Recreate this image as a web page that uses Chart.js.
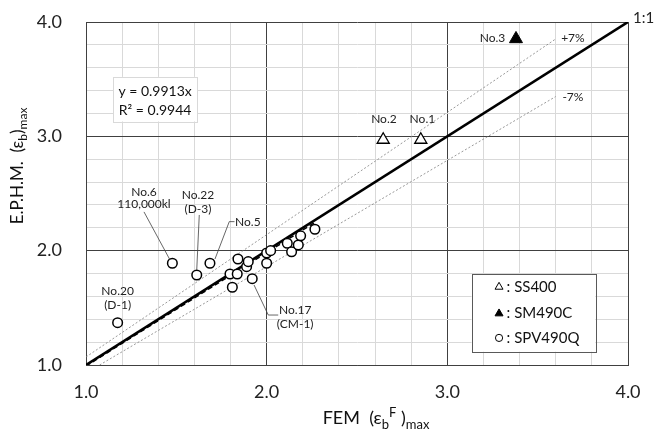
<!DOCTYPE html>
<html>
<head>
<meta charset="utf-8">
<script src="https://cdn.jsdelivr.net/npm/chart.js@4.4.0/dist/chart.umd.min.js"></script>
<style>
  html, body { margin: 0; padding: 0; background: #fff; }
  #wrap { width: 654px; height: 430px; }
</style>
</head>
<body>
<div id="wrap"><canvas id="chart" width="654" height="430"></canvas></div>
<script>
// SS400 - open triangles (No.2, No.1)
const ss400X = [2.645, 2.853];
const ss400Y = [2.97, 2.97];
// SM490C - filled triangle (No.3)
const sm490cX = [3.38];
const sm490cY = [3.852];
// SPV490Q - open circles
const spvX = [1.175, 1.478, 1.613, 1.686, 1.81, 1.797, 1.837, 1.841, 1.889, 1.898, 1.92, 2.0, 2.0, 2.022, 2.114, 2.138, 2.175, 2.188, 2.267];
const spvY = [1.37, 1.89, 1.787, 1.89, 1.68, 1.796, 1.796, 1.927, 1.86, 1.904, 1.755, 1.89, 1.98, 2.0, 2.065, 1.99, 2.05, 2.13, 2.187];

// reference lines
const slope = 0.9913;
const rSquared = 0.9944;
const band = 0.07;
const lineX = [1.0, 4.0];      // 1:1
const bandX = [1.0, 3.6];      // +/-7% lines
const fitX = [1.0, 2.267];     // regression over data range

// axis
const axisMin = 1.0;
const axisMax = 4.0;
const tickStep = 0.2;

const FONT = 'Lato, "Open Sans", "DejaVu Sans", sans-serif';

const toPts = (xs, ys) => xs.map((x, i) => ({ x: x, y: ys[i] }));

// annotations in data coordinates
const notes = [
  { t: 'No.6', x: 1.321, y: 2.516 },
  { t: '110,000kl', x: 1.321, y: 2.409 },
  { t: 'No.22', x: 1.62, y: 2.487 },
  { t: '(D-3)', x: 1.62, y: 2.365 },
  { t: 'No.5', x: 1.825, y: 2.254, align: 'left' },
  { t: 'No.20', x: 1.175, y: 1.647 },
  { t: '(D-1)', x: 1.175, y: 1.525 },
  { t: 'No.17', x: 2.158, y: 1.481 },
  { t: '(CM-1)', x: 2.158, y: 1.359 },
  { t: 'No.3', x: 3.25, y: 3.861 },
  { t: 'No.2', x: 2.649, y: 3.152 },
  { t: 'No.1', x: 2.862, y: 3.152 },
  { t: '+7%', x: 3.695, y: 3.857 },
  { t: '-7%', x: 3.695, y: 3.347 },
  { t: '1:1', x: 4.086, y: 4.03, size: 15 }
];

const leaders = [
  [[1.321, 2.339], [1.465, 1.919]],
  [[1.627, 2.312], [1.613, 1.831]],
  [[1.822, 2.254], [1.793, 2.254], [1.714, 1.927]],
  [[1.93, 1.70], [2.009, 1.437], [2.064, 1.437]]
];

// draw text runs with sub/superscripts, centred on cx
function drawRich(ctx, parts, cx, cy, size) {
  const small = Math.round(size * 0.7);
  let total = 0;
  parts.forEach(p => {
    ctx.font = (p.s ? small : size) + 'px ' + FONT;
    p.w = ctx.measureText(p.t).width;
    total += p.w;
  });
  let x = cx - total / 2;
  ctx.textAlign = 'left';
  ctx.textBaseline = 'alphabetic';
  parts.forEach(p => {
    ctx.font = (p.s ? small : size) + 'px ' + FONT;
    let dy = 0;
    if (p.s === 'sub') dy = size * 0.25;
    if (p.s === 'sup') dy = -size * 0.38;
    ctx.fillText(p.t, x, cy + dy);
    x += p.w;
  });
}

const overlay = {
  id: 'overlay',
  afterDraw(chart) {
    const ctx = chart.ctx;
    const sx = chart.scales.x, sy = chart.scales.y;
    const px = (x) => sx.getPixelForValue(x);
    const py = (y) => sy.getPixelForValue(y);
    ctx.save();

    // leader lines
    ctx.strokeStyle = '#404040';
    ctx.lineWidth = 0.8;
    leaders.forEach(path => {
      ctx.beginPath();
      path.forEach((p, i) => i ? ctx.lineTo(px(p[0]), py(p[1])) : ctx.moveTo(px(p[0]), py(p[1])));
      ctx.stroke();
    });

    // point labels
    ctx.fillStyle = '#222';
    ctx.textBaseline = 'middle';
    notes.forEach(n => {
      ctx.font = (n.size || 12) + 'px ' + FONT;
      ctx.textAlign = n.align || 'center';
      ctx.fillText(n.t, px(n.x), py(n.y));
    });

    // regression box
    const bx0 = px(1.15), by0 = py(3.52), bx1 = px(1.615), by1 = py(3.13);
    ctx.fillStyle = '#fff';
    ctx.fillRect(bx0, by0, bx1 - bx0, by1 - by0);
    ctx.strokeStyle = '#d9d9d9';
    ctx.lineWidth = 1;
    ctx.strokeRect(Math.round(bx0) + 0.5, Math.round(by0) + 0.5, Math.round(bx1 - bx0), Math.round(by1 - by0));
    ctx.fillStyle = '#111';
    ctx.font = '14px ' + FONT;
    ctx.textAlign = 'center';
    ctx.textBaseline = 'middle';
    const cx = (bx0 + bx1) / 2;
    ctx.fillText('y = ' + slope.toFixed(4) + 'x', cx, py(3.39));
    ctx.fillText('R\u00b2 = ' + rSquared.toFixed(4), cx, py(3.23));

    // legend box
    const lx0 = px(3.134), ly0 = py(1.796), lx1 = px(3.819), ly1 = py(1.116);
    ctx.fillStyle = '#fff';
    ctx.fillRect(lx0, ly0, lx1 - lx0, ly1 - ly0);
    ctx.strokeStyle = '#595959';
    ctx.strokeRect(Math.round(lx0) + 0.5, Math.round(ly0) + 0.5, Math.round(lx1 - lx0), Math.round(ly1 - ly0));
    const items = [
      { label: ': SS400', style: 'triangle', fill: '#fff', y: 1.683 },
      { label: ': SM490C', style: 'triangle', fill: '#000', y: 1.45 },
      { label: ': SPV490Q', style: 'circle', fill: '#fff', y: 1.237 }
    ];
    items.forEach(it => {
      const iy = py(it.y);
      ctx.fillStyle = it.fill;
      ctx.strokeStyle = '#000';
      ctx.lineWidth = 1;
      Chart.helpers.drawPoint(ctx, { pointStyle: it.style, radius: it.style === 'circle' ? 3.6 : 4.6, borderWidth: 1 }, lx0 + 27.5, iy);
      ctx.fillStyle = '#111';
      ctx.font = '15px ' + FONT;
      ctx.textAlign = 'left';
      ctx.textBaseline = 'middle';
      ctx.fillText(it.label, lx0 + 35, iy);
    });

    // axis titles
    ctx.fillStyle = '#111';
    drawRich(ctx, [
      { t: 'FEM  (\u03b5' }, { t: 'b', s: 'sub' }, { t: 'F', s: 'sup' }, { t: ' )' }, { t: 'max', s: 'sub' }
    ], 376, 424, 18);
    ctx.translate(23, 166);
    ctx.rotate(-Math.PI / 2);
    drawRich(ctx, [
      { t: 'E.P.H.M.  (\u03b5' }, { t: 'b', s: 'sub' }, { t: ')' }, { t: 'max', s: 'sub' }
    ], 0, 0, 17);
    ctx.restore();
  }
};

const isMajor = (v) => Math.abs(v - Math.round(v)) < 1e-6;
const gridColor = (c) => isMajor(c.tick.value) ? '#404040' : '#d9d9d9';

function axis(extra) {
  return Object.assign({
    type: 'linear',
    min: axisMin,
    max: axisMax,
    border: { display: true, color: '#404040', width: 1 },
    grid: { color: gridColor, lineWidth: 1, drawTicks: false },
    ticks: {
      stepSize: tickStep,
      autoSkip: false,
      maxRotation: 0,
      color: '#222',
      font: { family: FONT, size: 18 },
      callback: (v) => isMajor(v) ? v.toFixed(1) : ''
    }
  }, extra);
}

// fixed axis sizes, no extra room for edge labels
const noEdgePad = (s) => { s.paddingTop = 0; s.paddingBottom = 0; s.paddingLeft = 0; s.paddingRight = 0; };

const xScale = axis({ position: 'bottom' });
xScale.ticks.padding = 16;
xScale.afterFit = (s) => { s.height = 65; noEdgePad(s); };
const yScale = axis({ position: 'left' });
yScale.ticks.padding = 24;
yScale.afterFit = (s) => { s.width = 86; noEdgePad(s); };

new Chart(document.getElementById('chart'), {
  type: 'scatter',
  data: {
    datasets: [
      {
        label: 'SS400',
        data: toPts(ss400X, ss400Y),
        pointStyle: 'triangle',
        pointRadius: 7,
        backgroundColor: '#fff',
        borderColor: '#000',
        borderWidth: 1.3
      },
      {
        label: 'SM490C',
        data: toPts(sm490cX, sm490cY),
        pointStyle: 'triangle',
        pointRadius: 7.5,
        backgroundColor: '#000',
        borderColor: '#000',
        borderWidth: 1
      },
      {
        label: 'SPV490Q',
        data: toPts(spvX, spvY),
        pointStyle: 'circle',
        pointRadius: 4.8,
        backgroundColor: '#fff',
        borderColor: '#000',
        borderWidth: 1.5
      },
      {
        label: 'fit',
        data: fitX.map(x => ({ x: x, y: slope * x })),
        showLine: true,
        pointRadius: 0,
        borderColor: '#000',
        borderWidth: 1.5,
        borderDash: [5, 3]
      },
      {
        label: '1:1',
        data: lineX.map(x => ({ x: x, y: x })),
        showLine: true,
        pointRadius: 0,
        borderColor: '#000',
        borderWidth: 2.6
      },
      {
        label: '+7%',
        data: bandX.map(x => ({ x: x, y: (1 + band) * x })),
        showLine: true,
        pointRadius: 0,
        borderColor: '#7f7f7f',
        borderWidth: 0.8,
        borderDash: [2, 2]
      },
      {
        label: '-7%',
        data: [axisMin / (1 - band), bandX[1]].map(x => ({ x: x, y: (1 - band) * x })),
        showLine: true,
        pointRadius: 0,
        borderColor: '#7f7f7f',
        borderWidth: 0.8,
        borderDash: [2, 2]
      }
    ]
  },
  options: {
    responsive: false,
    animation: false,
    layout: { padding: { top: 22, right: 26, left: 0, bottom: 0 } },
    plugins: {
      legend: { display: false },
      tooltip: { enabled: false }
    },
    scales: { x: xScale, y: yScale }
  },
  plugins: [overlay]
});
</script>
</body>
</html>
